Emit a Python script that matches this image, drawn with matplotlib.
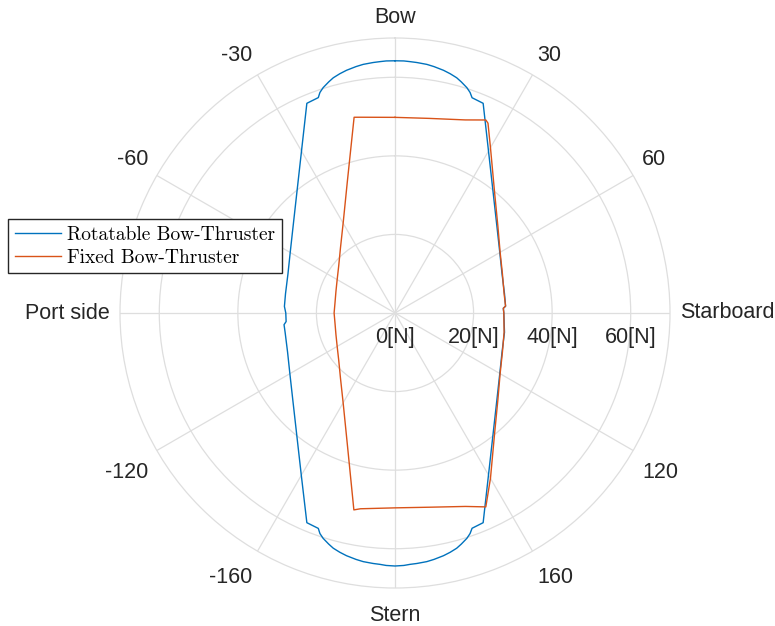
import numpy as np
import matplotlib
matplotlib.use('Agg')
import matplotlib.pyplot as plt

plt.rcParams['font.family'] = ['Liberation Sans', 'DejaVu Sans']

# heading angles in degrees (0 = bow, clockwise), thrust in N
rot_angle = [0, 2, 3.4, 5, 7.3, 9, 11.3, 13, 14.7, 16, 17.7, 18.8, 19.7, 22.8, 30, 40, 50, 60, 70, 80,
             86.5, 87.5, 90, 100, 110, 120, 130, 140, 150, 157.2, 160.3, 161.2, 162.3, 164, 165.3,
             167, 168.7, 171, 172.7, 175, 176.6, 178, 180,
             182, 183.4, 185, 187.3, 189, 191.3, 193, 194.7, 196, 197.7, 198.8, 199.6, 202.8,
             210, 220, 230, 240, 250, 260, 264, 265.5, 270, 273.4, 280, 290, 300, 310, 320, 330,
             337.2, 340.4, 341.2, 342.3, 344, 345.3, 347, 348.7, 351, 352.7, 355, 356.6, 358, 360]
rot_force = [64.2, 64.2, 64.1, 64.0, 63.8, 63.5, 63.0, 62.5, 61.9, 61.2, 60.2, 59.3, 58.2, 57.9,
             47.6, 39.0, 33.9, 30.8, 29.0, 28.3, 28.2, 27.6, 27.7, 28.3, 29.0, 30.8, 33.9, 39.0,
             47.6, 57.9, 58.2, 59.3, 60.2, 61.2, 61.9, 62.5, 63.0, 63.5, 63.8, 64.0, 64.1, 64.3, 64.4,
             64.3, 64.1, 64.0, 63.8, 63.5, 63.0, 62.5, 61.9, 61.2, 60.2, 59.3, 58.2, 57.9,
             47.7, 39.1, 34.0, 30.9, 29.1, 28.4, 28.4, 27.8, 27.8, 28.2, 28.3, 29.0, 30.8, 33.9,
             39.0, 47.6, 57.9, 58.2, 59.3, 60.2, 61.2, 61.9, 62.5, 63.0, 63.5, 63.8, 64.0, 64.1,
             64.2, 64.2]

fix_angle = [0, 10, 20, 25.2, 26.1, 30, 40, 50, 60, 70, 80, 86.4, 87.5, 90,
             100, 110, 120, 130, 140, 150, 154.9, 160, 170, 180, 190, 191.8,
             200, 210, 220, 230, 240, 250, 260, 270, 280, 290, 300, 310, 320, 330, 340,
             348.2, 350, 360]
fix_force = [49.8, 50.3, 52.3, 54.3, 53.8, 48.6, 39.5, 34.2, 30.9, 29.1, 28.2, 28.2, 27.6, 27.7,
             28.2, 29.1, 30.9, 34.2, 39.5, 48.6, 54.5, 52.4, 50.2, 49.6, 50.6, 51.2,
             35.5, 26.4, 21.6, 18.7, 17.0, 16.0, 15.5, 15.5, 15.5, 16.0, 17.0, 18.7, 21.6, 26.4, 35.5,
             50.9, 50.6, 49.8]

theta_ticks = [0, 30, 60, 90, 120, 150, 180, 210, 240, 270, 300, 330]
theta_labels = ['Bow', '30', '60', 'Starboard', '120', '160', 'Stern', '-160', '-120', 'Port side', '-60', '-30']
r_ticks = [0, 20, 40, 60]
r_labels = ['0[N]', '20[N]', '40[N]', '60[N]']

txt = '#262626'
grid = '#dedede'

fig = plt.figure(figsize=(7.75, 6.26), dpi=100)
ax = fig.add_axes([120 / 775, 38 / 626, 550 / 775, 550 / 626], projection='polar')
ax.set_theta_zero_location('N')
ax.set_theta_direction(-1)
ax.set_ylim(0, 70)
ax.set_yticks(r_ticks[1:])
ax.set_yticklabels([])
ax.set_xticks(np.deg2rad(theta_ticks))
ax.set_xticklabels([])
ax.tick_params(length=0)
ax.grid(True, color=grid, lw=0.9)
ax.spines['polar'].set_color(grid)
ax.spines['polar'].set_linewidth(0.9)

l1, = ax.plot(np.deg2rad(rot_angle), rot_force, color='#0072BD', lw=1.0)
l2, = ax.plot(np.deg2rad(fix_angle), fix_force, color='#D95319', lw=1.0)

# angle labels sit just outside the outer ring, anchored on the side facing the centre
for a, s in zip(theta_ticks, theta_labels):
    sn, cs = np.sin(np.deg2rad(a)), np.cos(np.deg2rad(a))
    ha = 'center' if abs(sn) < 0.1 else ('left' if sn > 0 else 'right')
    va = 'center' if abs(cs) < 0.1 else ('bottom' if cs > 0 else 'top')
    dy = -6.5 if cs < -0.1 else 0
    ax.annotate(s, xy=(np.deg2rad(a), 72.6), xytext=(0, dy), textcoords='offset pixels',
                ha=ha, va=va, fontsize=15.5, color=txt, annotation_clip=False)

for r, s in zip(r_ticks, r_labels):
    ax.annotate(s, xy=(np.deg2rad(90), r), xytext=(0, -25), textcoords='offset pixels',
                ha='center', va='center', fontsize=15.5, color=txt)

leg = fig.legend([l1, l2], ['Rotatable Bow-Thruster', 'Fixed Bow-Thruster'],
                 loc='upper left', bbox_to_anchor=(8 / 775, 1 - 219 / 626),
                 prop={'family': 'cmr10', 'size': 14}, fancybox=False, framealpha=1,
                 edgecolor='#262626', borderaxespad=0, handlelength=2.4,
                 borderpad=0.35, labelspacing=0.25, handletextpad=0.3)
leg.get_frame().set_linewidth(1.0)

fig.savefig('out.png', dpi=100)
